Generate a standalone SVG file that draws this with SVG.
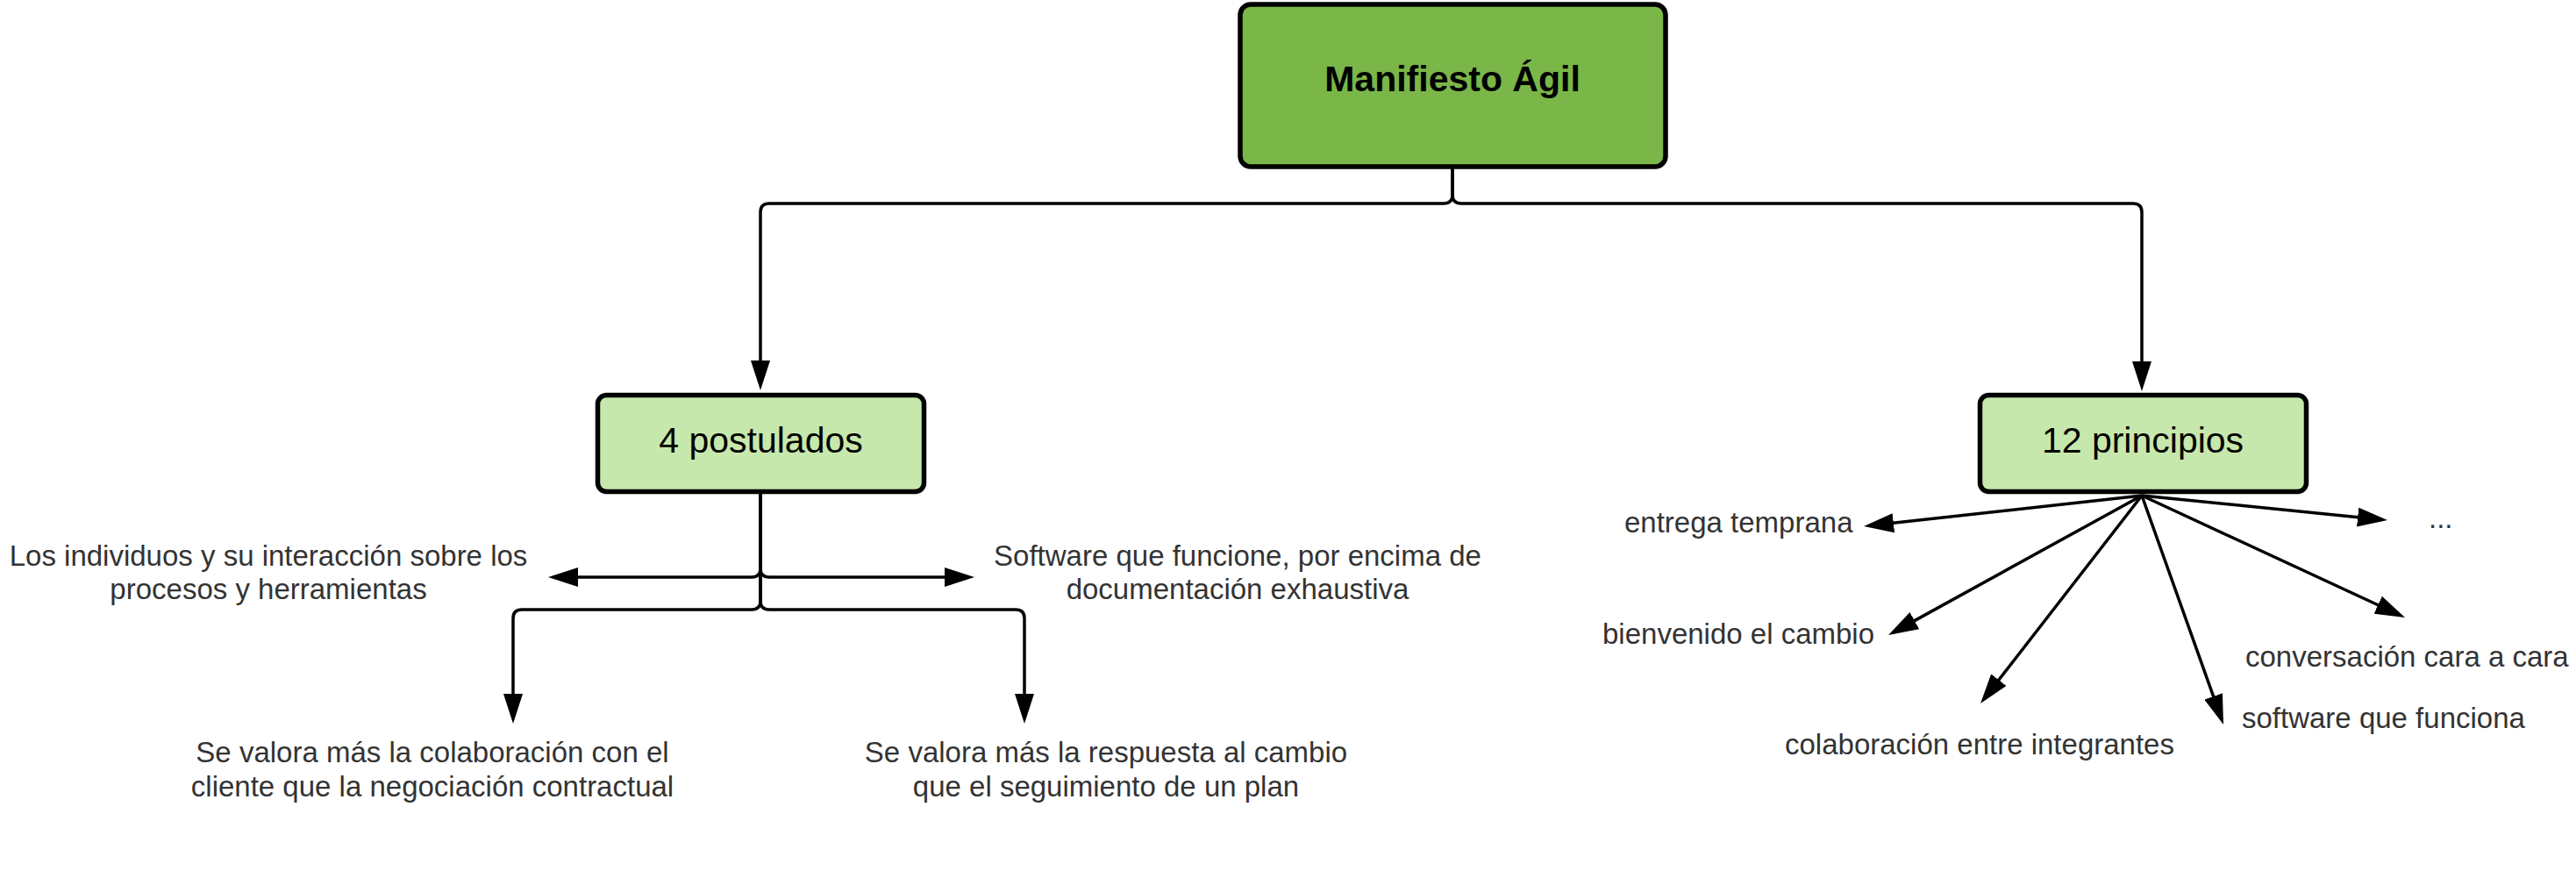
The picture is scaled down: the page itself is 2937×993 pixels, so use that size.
<svg xmlns="http://www.w3.org/2000/svg" width="2937" height="993" viewBox="0 0 2937 993">
<defs>
<style>
.box{stroke:#000;stroke-width:5.5}
.main{fill:#7AB648}
.sub{fill:#C7E8AC}
.conn{fill:none;stroke:#000;stroke-width:3.5;marker-end:url(#arr)}
.title{font-family:"Liberation Sans",Arial,sans-serif;font-size:41px;fill:#000;text-anchor:middle}
.lbl{font-family:"Liberation Sans",Arial,sans-serif;font-size:33px;fill:#333}
.mid{text-anchor:middle}
</style>
<marker id="arr" markerUnits="userSpaceOnUse" viewBox="0 0 34 22" markerWidth="34" markerHeight="22" refX="28" refY="11" orient="auto">
<path d="M0,0 L34,11 L0,22 z" fill="#000"/>
</marker>
</defs>
<rect width="2937" height="993" fill="#fff"/>
<g id="connectors">
<path class="conn" d="M1656,192 V222 Q1656,232 1646,232 H877 Q867,232 867,242 V439"/>
<path class="conn" d="M1656,192 V222 Q1656,232 1666,232 H2432 Q2442,232 2442,242 V440"/>
<path class="conn" d="M867,563 V648 Q867,658 857,658 H631"/>
<path class="conn" d="M867,563 V648 Q867,658 877,658 H1105"/>
<path class="conn" d="M867,563 V685 Q867,695 857,695 H595 Q585,695 585,705 V819"/>
<path class="conn" d="M867,563 V685 Q867,695 877,695 H1158 Q1168,695 1168,705 V819"/>
<path class="conn" d="M2442,565 L2131,599.3"/>
<path class="conn" d="M2442,565 L2158.3,721.1"/>
<path class="conn" d="M2442,565 L2261.7,797.3"/>
<path class="conn" d="M2442,565 L2533,820.3"/>
<path class="conn" d="M2442,565 L2736.6,701.5"/>
<path class="conn" d="M2442,565 L2716,592.4"/>
</g>
<g id="manifiesto">
<rect class="box main" x="1414" y="5" width="485" height="185" rx="12" stroke-width="6"/>
<text class="title" x="1656" y="104" font-weight="bold">Manifiesto Ágil</text>
</g>
<g id="postulados">
<rect class="box sub" x="681.5" y="450.5" width="372" height="110" rx="10"/>
<text class="title" x="867.5" y="516">4 postulados</text>
</g>
<g id="principios">
<rect class="box sub" x="2257.5" y="450.5" width="372" height="110" rx="10"/>
<text class="title" x="2443" y="516">12 principios</text>
</g>
<g id="individuos">
<text class="lbl mid" x="306" y="645">Los individuos y su interacción sobre los</text>
<text class="lbl mid" x="306" y="683">procesos y herramientas</text>
</g>
<g id="software-doc">
<text class="lbl mid" x="1411" y="645">Software que funcione, por encima de</text>
<text class="lbl mid" x="1411" y="683">documentación exhaustiva</text>
</g>
<g id="colaboracion-cliente">
<text class="lbl mid" x="493" y="869">Se valora más la colaboración con el</text>
<text class="lbl mid" x="493" y="908">cliente que la negociación contractual</text>
</g>
<g id="respuesta-cambio">
<text class="lbl mid" x="1261" y="869">Se valora más la respuesta al cambio</text>
<text class="lbl mid" x="1261" y="908">que el seguimiento de un plan</text>
</g>
<g id="entrega"><text class="lbl" x="1852" y="607">entrega temprana</text></g>
<g id="bienvenido"><text class="lbl" x="1827" y="734">bienvenido el cambio</text></g>
<g id="colaboracion-integrantes"><text class="lbl" x="2035" y="860">colaboración entre integrantes</text></g>
<g id="software-funciona"><text class="lbl" x="2556" y="830">software que funciona</text></g>
<g id="conversacion"><text class="lbl" x="2560" y="760">conversación cara a cara</text></g>
<g id="mas"><text class="lbl" x="2769" y="602">...</text></g>
</svg>
